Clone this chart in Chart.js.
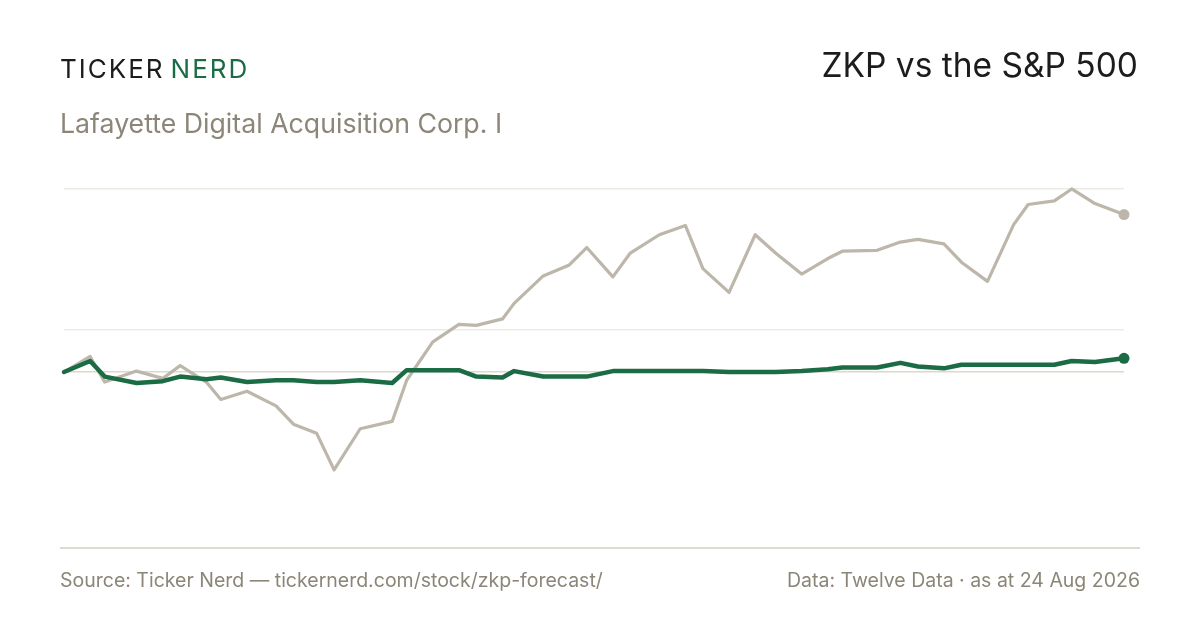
<!DOCTYPE html>
<html>
<head>
<meta charset="utf-8">
<script src="https://cdn.jsdelivr.net/npm/chart.js@4"></script>
<style>
  html, body { margin: 0; padding: 0; background: #fff; }
  body { width: 1200px; height: 630px; position: relative; overflow: hidden; font-family: Inter, "Noto Sans", sans-serif; }
  #chart { position: absolute; left: 0; top: 0; }
  .txt { position: absolute; white-space: nowrap; line-height: 1; }
  #logo { left: 60px; top: 56px; font-size: 26px; letter-spacing: 2px; color: #1c1c1c; }
  #logo span { color: #1b6b45; margin-left: 6px; }
  #title { right: 62px; top: 49px; font-size: 33.5px; color: #1c1c1c; }
  #sub { left: 60px; top: 110px; font-size: 26.7px; color: #8b8677; }
  #rule { position: absolute; left: 60px; top: 547px; width: 1080px; height: 2px; background: #e0dbd0; }
  .foot { top: 571px; font-size: 19.5px; color: #8b8677; }
  #src { left: 60px; }
  #data { right: 60px; }
</style>
</head>
<body>
<canvas id="chart" width="1200" height="630"></canvas>
<div class="txt" id="logo">TICKER<span>NERD</span></div>
<div class="txt" id="title">ZKP vs the S&amp;P 500</div>
<div class="txt" id="sub">Lafayette Digital Acquisition Corp. I</div>
<div id="rule"></div>
<div class="txt foot" id="src">Source: Ticker Nerd — tickernerd.com/stock/zkp-forecast/</div>
<div class="txt foot" id="data">Data: Twelve Data · as at 24 Aug 2026</div>
<script>
// Day offsets from the first point
let days = [0, 9, 14, 25, 34, 40, 49, 54, 63, 73,
            79, 87, 93, 102, 113, 118, 127, 136, 142, 151,
            155, 165, 174, 180, 189, 195, 205, 214, 220, 229,
            238, 245, 254, 263, 268, 280, 288, 294, 303, 309,
            318, 327, 332, 341, 347, 355, 365];

// % change since start
let zkp = [0.0, 1.2, -0.5, -1.2, -1.0, -0.5, -0.8, -0.6, -1.1, -0.9,
           -0.9, -1.1, -1.1, -0.9, -1.2, 0.2, 0.2, 0.2, -0.5, -0.6,
           0.1, -0.5, -0.5, -0.5, 0.1, 0.1, 0.1, 0.1, 0.1, 0.0,
           0.0, 0.0, 0.1, 0.3, 0.5, 0.5, 1.0, 0.6, 0.4, 0.8,
           0.8, 0.8, 0.8, 0.8, 1.2, 1.1, 1.5];

let spx = [0.0, 1.7, -1.1, 0.1, -0.7, 0.7, -1.1, -3.0, -2.1, -3.7,
           -5.7, -6.7, -10.7, -6.2, -5.4, -0.9, 3.3, 5.2, 5.1, 5.8,
           7.5, 10.5, 11.7, 13.6, 10.4, 13.0, 15.0, 16.0, 11.3, 8.7,
           15.0, 13.0, 10.7, 12.4, 13.2, 13.3, 14.2, 14.5, 14.0, 12.0,
           9.9, 16.1, 18.3, 18.7, 20.0, 18.4, 17.2];

// Gridlines: start level, mid and max of range
let gridTicks = [0, 4.65, 20];

function pts(values) {
    return values.map((v, i) => ({ x: days[i], y: v }));
}

function lastDot(r) {
    return ctx => ctx.dataIndex === days.length - 1 ? r : 0;
}

let ctx = document.getElementById('chart').getContext('2d');
let myChart = new Chart(ctx, {
    type: 'line',
    data: {
        datasets: [
            {
                data: pts(zkp),
                label: 'ZKP',
                borderColor: '#1b6b45',
                backgroundColor: '#1b6b45',
                borderWidth: 4.5,
                pointRadius: lastDot(5.5),
                pointBorderWidth: 0,
                order: 0,
                clip: false
            },
            {
                data: pts(spx),
                label: 'S&P 500',
                borderColor: '#bdb6aa',
                backgroundColor: '#bdb6aa',
                borderWidth: 3.2,
                pointRadius: lastDot(5.5),
                pointBorderWidth: 0,
                order: 1,
                clip: false
            }
        ]
    },
    options: {
        responsive: false,
        animation: false,
        layout: { padding: { left: 64, right: 76, top: 180, bottom: 82 } },
        plugins: { legend: { display: false }, tooltip: { enabled: false } },
        elements: { line: { tension: 0, borderJoinStyle: 'round', borderCapStyle: 'round' } },
        scales: {
            x: { type: 'linear', min: 0, max: 365, display: false },
            y: {
                min: -19.23,
                max: 20.98,
                afterBuildTicks: axis => { axis.ticks = gridTicks.map(v => ({ value: v })); },
                ticks: { display: false },
                border: { display: false },
                grid: {
                    drawTicks: false,
                    lineWidth: 1.5,
                    color: c => c.tick && c.tick.value === 0 ? '#ddd8c9' : '#ecebe5'
                }
            }
        }
    }
});
</script>
</body>
</html>
